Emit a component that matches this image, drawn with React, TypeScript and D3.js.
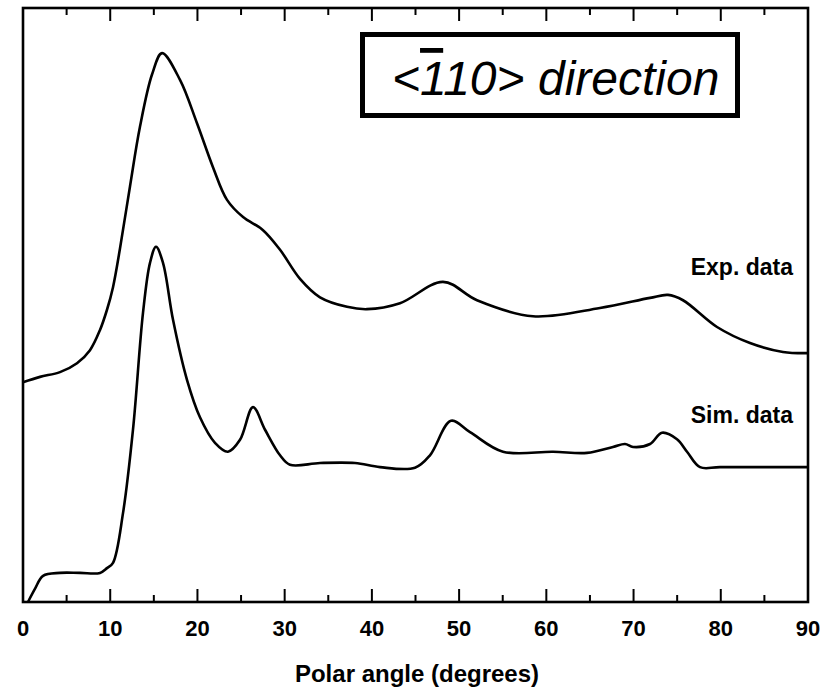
import React, { useEffect, useRef } from "react";
import * as d3 from "d3";

// polar angle (deg) and intensity (arb. units)
const expAngle = [0, 1.95, 4.24, 6.19, 7.68, 8.83, 9.63, 10.32, 11.12, 12.27, 13.41, 14.79, 15.94, 18.0, 19.95, 21.78, 23.39, 25.23, 27.52, 29.47, 31.76, 34.05, 37.15, 39.44, 43.22, 48.15, 52.05, 58.47, 66.15, 71.89, 73.95, 75.67, 79.57, 83.35, 87.13, 90];
const expValue = [37.0, 37.9, 38.7, 40.2, 42.4, 45.8, 49.2, 53.0, 59.5, 70.0, 80.0, 88.8, 92.4, 87.9, 80.6, 73.2, 67.7, 64.8, 62.6, 59.3, 54.4, 51.3, 49.7, 49.3, 50.3, 53.9, 50.8, 48.1, 49.5, 51.2, 51.7, 50.8, 46.3, 43.6, 42.1, 41.9];

const simAngle = [0.57, 1.4, 2.3, 4.24, 6.54, 8.83, 9.63, 10.32, 11.47, 12.61, 13.76, 14.56, 15.25, 16.05, 17.2, 18.8, 20.29, 22.01, 23.5, 24.88, 26.37, 27.75, 29.47, 30.61, 34.05, 38.06, 40.93, 44.94, 46.66, 49.07, 51.25, 55.03, 60.77, 64.66, 67.64, 69.02, 69.94, 71.89, 73.26, 74.98, 76.13, 77.62, 79.91, 90];
const simValue = [0, 2.3, 4.4, 4.9, 4.9, 4.9, 5.7, 6.6, 15.0, 29.0, 48.7, 57.1, 59.8, 57.1, 47.5, 37.4, 31.1, 26.8, 25.3, 27.3, 32.8, 29.0, 24.7, 23.1, 23.4, 23.4, 22.7, 22.6, 24.7, 30.5, 28.6, 25.3, 25.3, 25.1, 26.1, 26.6, 26.1, 26.6, 28.5, 27.4, 25.3, 22.7, 22.7, 22.7];

const xTicks = [0, 10, 20, 30, 40, 50, 60, 70, 80, 90];
const minorTicks = [5, 15, 25, 35, 45, 55, 65, 75, 85];

const W = 834;
const H = 688;
const left = 23;
const right = 808;
const top = 8;
const bottom = 602;
const font = "'Liberation Sans', Arial, sans-serif";

export default function App() {
  const ref = useRef<SVGSVGElement>(null);

  useEffect(() => {
    const svg = d3.select(ref.current);
    svg.selectAll("*").remove();

    const x = d3.scaleLinear().domain([0, 90]).range([left, right]);
    const y = d3.scaleLinear().domain([0, 100]).range([bottom, top]);

    const line = d3
      .line<[number, number]>()
      .x((d) => x(d[0]))
      .y((d) => y(d[1]))
      .curve(d3.curveCatmullRom.alpha(0.5));

    const expData = expAngle.map((a, i) => [a, expValue[i]] as [number, number]);
    const simData = simAngle.map((a, i) => [a, simValue[i]] as [number, number]);

    [expData, simData].forEach((data) => {
      svg
        .append("path")
        .attr("d", line(data))
        .attr("fill", "none")
        .attr("stroke", "#000")
        .attr("stroke-width", 2.6)
        .attr("stroke-linejoin", "round");
    });

    // frame
    svg
      .append("rect")
      .attr("x", left)
      .attr("y", top)
      .attr("width", right - left)
      .attr("height", bottom - top)
      .attr("fill", "none")
      .attr("stroke", "#000")
      .attr("stroke-width", 2.6);

    // ticks, bottom and top, pointing inward
    const tk = svg.append("g").attr("stroke", "#000").attr("stroke-width", 2);
    const addTicks = (vals: number[], len: number) => {
      vals.forEach((v) => {
        tk.append("line").attr("x1", x(v)).attr("x2", x(v)).attr("y1", bottom).attr("y2", bottom - len);
        tk.append("line").attr("x1", x(v)).attr("x2", x(v)).attr("y1", top).attr("y2", top + len);
      });
    };
    addTicks(xTicks.slice(1, -1), 13);
    addTicks(minorTicks, 7);

    svg
      .append("g")
      .selectAll("text")
      .data(xTicks)
      .enter()
      .append("text")
      .attr("x", (d) => x(d))
      .attr("y", 636)
      .attr("text-anchor", "middle")
      .style("font-family", font)
      .style("font-weight", "bold")
      .style("font-size", "22px")
      .text((d) => d);

    svg
      .append("text")
      .attr("x", 417)
      .attr("y", 682)
      .attr("text-anchor", "middle")
      .style("font-family", font)
      .style("font-weight", "bold")
      .style("font-size", "24px")
      .text("Polar angle (degrees)");

    // series labels
    const lab = [
      { t: "Exp. data", v: 55.1 },
      { t: "Sim. data", v: 30.1 },
    ];
    svg
      .append("g")
      .selectAll("text")
      .data(lab)
      .enter()
      .append("text")
      .attr("x", 793)
      .attr("y", (d) => y(d.v))
      .attr("text-anchor", "end")
      .style("font-family", font)
      .style("font-weight", "bold")
      .style("font-size", "23px")
      .text((d) => d.t);

    // title box
    svg
      .append("rect")
      .attr("x", 362.5)
      .attr("y", 34.5)
      .attr("width", 375)
      .attr("height", 81)
      .attr("fill", "#fff")
      .attr("stroke", "#000")
      .attr("stroke-width", 5);

    const title = svg
      .append("text")
      .attr("x", 392)
      .attr("y", 95)
      .style("font-family", font)
      .style("font-style", "italic")
      .style("font-size", "48px");
    title.append("tspan").text("<");
    title.append("tspan").style("text-decoration", "overline").text("1");
    title.append("tspan").text("10> direction");
  }, []);

  return (
    <svg
      ref={ref}
      width={W}
      height={H}
      style={{ position: "absolute", left: 0, top: 0, background: "#fff" }}
    />
  );
}
